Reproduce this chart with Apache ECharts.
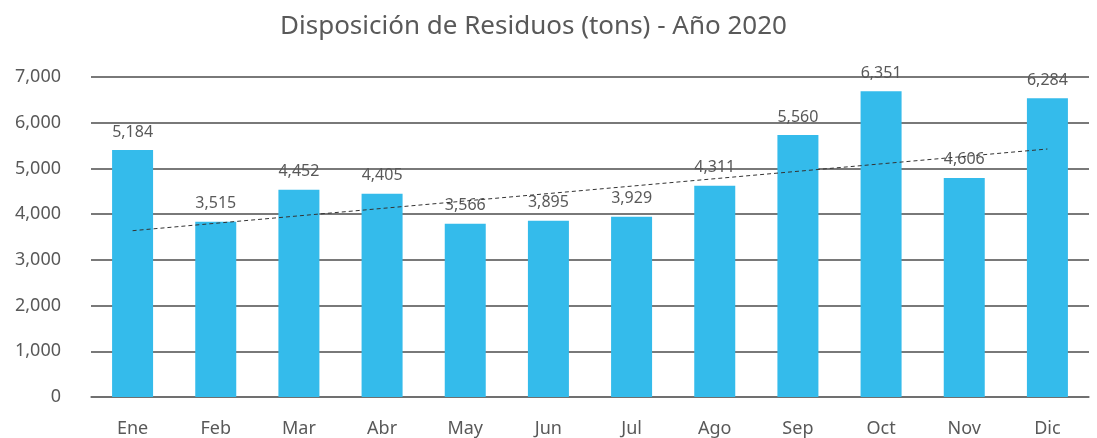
<!DOCTYPE html>
<html>
<head>
<meta charset="utf-8">
<script src="https://cdn.jsdelivr.net/npm/echarts@6/dist/echarts.min.js"></script>
<style>
html, body { margin: 0; padding: 0; background: #fff; }
#chart { width: 1097px; height: 438px; }
</style>
</head>
<body>
<div id="chart"></div>
<script>
// meses
var months = ['Ene', 'Feb', 'Mar', 'Abr', 'May', 'Jun', 'Jul', 'Ago', 'Sep', 'Oct', 'Nov', 'Dic'];
// altura de las barras tal como se ven en el grafico
var barValues = [5403, 3834, 4532, 4444, 3791, 3856, 3943, 4619, 5730, 6688, 4793, 6536];
// etiquetas escritas sobre cada barra
var labelValues = [5184, 3515, 4452, 4405, 3566, 3895, 3929, 4311, 5560, 6351, 4606, 6284];
// linea de tendencia: solo extremos
var trendValues = [3638, null, null, null, null, null, null, null, null, null, null, 5425];
var yTicks = { min: 0, max: 7000, interval: 1000 };

var textColor = '#595959';
var font = 'Noto Sans';

var chart = echarts.init(document.getElementById('chart'));
chart.setOption({
  animation: false,
  title: {
    text: 'Disposición de Residuos (tons) - Año 2020',
    left: 275,
    top: 9,
    textStyle: { fontFamily: font, fontSize: 26, fontWeight: 'normal', color: textColor }
  },
  grid: { left: 91, right: 8, top: 77, bottom: 39 },
  xAxis: {
    type: 'category',
    data: months,
    axisLine: { lineStyle: { color: '#6e6e6e', width: 1.5 } },
    axisTick: { show: false },
    axisLabel: { fontFamily: font, fontSize: 18, color: textColor, margin: 23 }
  },
  yAxis: {
    type: 'value',
    min: yTicks.min,
    max: yTicks.max,
    interval: yTicks.interval,
    axisLine: { show: false },
    axisTick: { show: false },
    splitLine: { lineStyle: { color: '#4d4d4d', width: 1.5 } },
    axisLabel: {
      fontFamily: font, fontSize: 18, color: textColor, margin: 30,
      formatter: function (v) { return v.toLocaleString('en-US'); }
    }
  },
  series: [
    {
      type: 'bar',
      data: barValues,
      barWidth: 41,
      itemStyle: { color: '#34bbeb' },
      label: {
        show: true,
        position: 'top',
        distance: 10,
        fontFamily: font,
        fontSize: 16,
        color: textColor,
        formatter: function (p) { return labelValues[p.dataIndex].toLocaleString('en-US'); }
      },
      z: 2
    },
    {
      type: 'line',
      data: trendValues,
      connectNulls: true,
      symbol: 'none',
      lineStyle: { color: '#333', width: 1, type: [4, 3] },
      z: 3
    }
  ]
});
</script>
</body>
</html>
